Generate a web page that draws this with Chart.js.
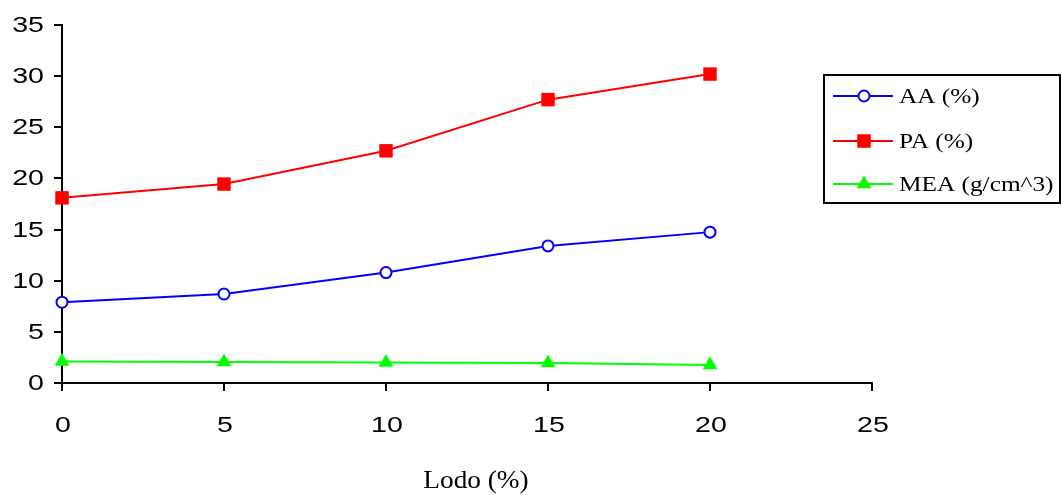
<!DOCTYPE html>
<html>
<head>
<meta charset="utf-8">
<script src="https://cdn.jsdelivr.net/npm/chart.js@4.4.1/dist/chart.umd.min.js"></script>
<style>
  body { margin: 0; background: #fff; }
  #wrap { width: 1062px; height: 495px; position: relative; }
</style>
</head>
<body>
<div id="wrap"><canvas id="myChart"></canvas></div>
<script>
const lodo = [0, 5, 10, 15, 20];
const aa = [7.9, 8.7, 10.8, 13.4, 14.75];
const pa = [18.1, 19.45, 22.7, 27.7, 30.2];
const mea = [2.1, 2.05, 2.0, 1.95, 1.75];
const seriesNames = ['AA (%)', 'PA (%)', 'MEA (g/cm^3)'];
const xTitle = 'Lodo (%)';

function pts(vals) {
  return lodo.map((x, i) => ({ x: x, y: vals[i] }));
}

// stretched text, the original picture is wider than tall
function stretchText(ctx, text, x, y, sx, align) {
  ctx.save();
  ctx.translate(x, y);
  ctx.scale(sx, 1);
  ctx.textAlign = align;
  ctx.fillText(text, 0, 0);
  ctx.restore();
}

const textPlugin = {
  id: 'texts',
  afterDraw(chart) {
    const ctx = chart.ctx;
    const xs = chart.scales.x;
    const ys = chart.scales.y;
    ctx.save();
    ctx.fillStyle = '#000';
    ctx.textBaseline = 'middle';
    ctx.font = '22px Arimo, "Liberation Sans", Arial, sans-serif';
    ys.ticks.forEach(t => {
      stretchText(ctx, String(t.value), 44, ys.getPixelForValue(t.value) + 1, 1.3, 'right');
    });
    xs.ticks.forEach(t => {
      stretchText(ctx, String(t.value), xs.getPixelForValue(t.value) + 1, 426, 1.3, 'center');
    });

    // axis title
    ctx.textBaseline = 'alphabetic';
    ctx.font = '26px "Liberation Serif", "Times New Roman", serif';
    stretchText(ctx, xTitle, (chart.chartArea.left + chart.chartArea.right) / 2 + 9, 488, 1.05, 'center');

    // legend
    ctx.strokeStyle = '#000';
    ctx.lineWidth = 2;
    ctx.strokeRect(824, 75, 236, 128);
    const rows = [103, 148, 191];
    ctx.font = '22px "Liberation Serif", "Times New Roman", serif';
    chart.data.datasets.forEach((ds, i) => {
      const cy = rows[i] - 7;
      ctx.strokeStyle = ds.borderColor;
      ctx.lineWidth = 2;
      ctx.beginPath();
      ctx.moveTo(833, cy);
      ctx.lineTo(893, cy);
      ctx.stroke();
      ctx.fillStyle = ds.pointBackgroundColor;
      ctx.strokeStyle = ds.borderColor;
      Chart.helpers.drawPoint(ctx, {
        pointStyle: ds.pointStyle,
        radius: ds.pointRadius,
        borderWidth: ds.pointBorderWidth,
        rotation: 0
      }, 864, cy);
      ctx.fillStyle = '#000';
      stretchText(ctx, ds.label, 899, rows[i], 1.15, 'left');
    });
    ctx.restore();
  }
};

const ctx = document.getElementById('myChart');

const myChart = new Chart(ctx, {
  type: 'line',
  data: {
    datasets: [{
      label: seriesNames[0],
      data: pts(aa),
      borderColor: '#0000FF',
      borderWidth: 2,
      pointStyle: 'circle',
      pointRadius: 5.5,
      pointBorderWidth: 2,
      pointBackgroundColor: '#FFFFFF',
      pointBorderColor: '#0000FF',
      clip: false
    }, {
      label: seriesNames[1],
      data: pts(pa),
      borderColor: '#FF0000',
      borderWidth: 2,
      pointStyle: 'rect',
      pointRadius: 9.5,
      pointBorderWidth: 0,
      pointBackgroundColor: '#FF0000',
      pointBorderColor: '#FF0000',
      clip: false
    }, {
      label: seriesNames[2],
      data: pts(mea),
      borderColor: '#00FF00',
      borderWidth: 2,
      pointStyle: 'triangle',
      pointRadius: 8.5,
      pointBorderWidth: 0,
      pointBackgroundColor: '#00FF00',
      pointBorderColor: '#00FF00',
      clip: false
    }]
  },
  options: {
    responsive: true,
    maintainAspectRatio: false,
    animation: false,
    layout: {
      padding: { left: 0, right: 190, top: 25, bottom: 0 }
    },
    plugins: {
      legend: { display: false },
      tooltip: { enabled: false }
    },
    scales: {
      x: {
        type: 'linear',
        min: 0,
        max: 25,
        ticks: { display: false, stepSize: 5 },
        grid: {
          drawOnChartArea: false,
          drawTicks: true,
          tickLength: 8,
          color: '#000',
          lineWidth: 2
        },
        border: { display: true, color: '#000', width: 2 },
        afterFit(scale) { scale.height = 112; }
      },
      y: {
        min: 0,
        max: 35,
        ticks: { display: false, stepSize: 5 },
        grid: {
          drawOnChartArea: false,
          drawTicks: true,
          tickLength: 8,
          color: '#000',
          lineWidth: 2
        },
        border: { display: true, color: '#000', width: 2 },
        afterFit(scale) { scale.width = 62; }
      }
    }
  },
  plugins: [textPlugin]
});
</script>
</body>
</html>
